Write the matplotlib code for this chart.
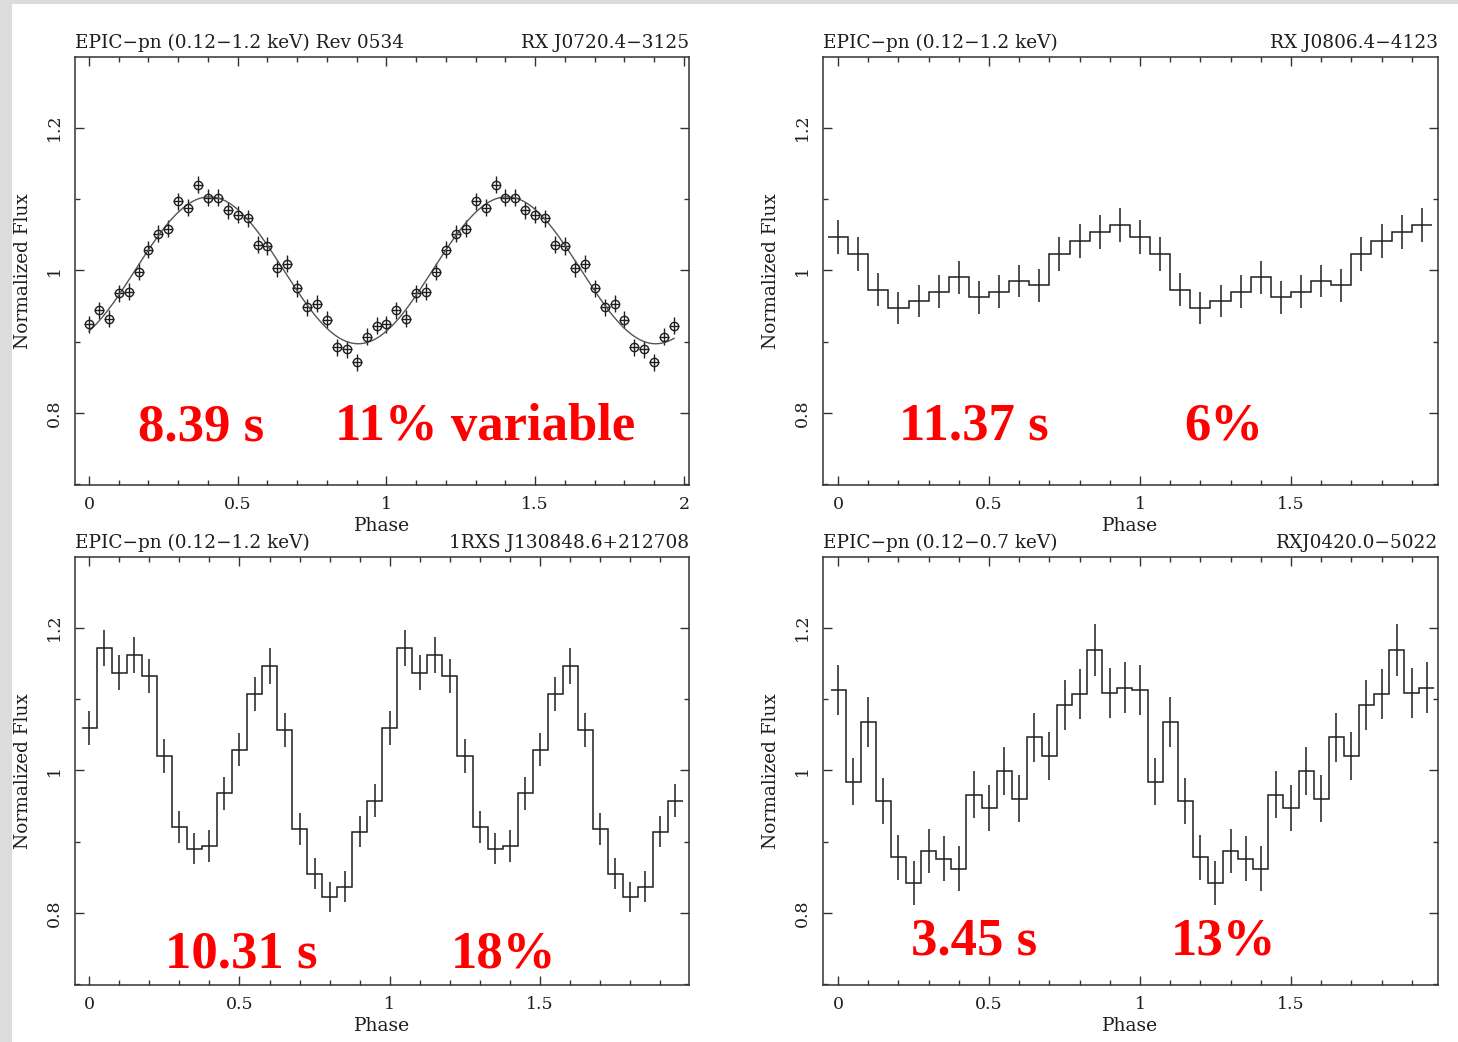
import numpy as np
import matplotlib
matplotlib.use("Agg")
import matplotlib.pyplot as plt
from matplotlib.patches import Rectangle
from matplotlib.ticker import MultipleLocator, FixedLocator, FuncFormatter

# ---------------------------------------------------------------
# Folded EPIC-pn light curves (one cycle each, shown twice)
# ---------------------------------------------------------------

# RX J0720.4-3125, 30 bins per cycle
j0720_flux = [0.924, 0.944, 0.932, 0.968, 0.970, 0.998, 1.029, 1.051, 1.058, 1.097,
              1.088, 1.120, 1.102, 1.102, 1.084, 1.078, 1.073, 1.036, 1.034, 1.003,
              1.009, 0.975, 0.948, 0.953, 0.931, 0.892, 0.889, 0.871, 0.907, 0.922]
j0720_err = [0.012] * 30
# sinusoidal fit: mean, semi-amplitude, phase of maximum
j0720_fit_mean = 1.0
j0720_fit_amp = 0.103
j0720_fit_peak = 0.405

# RX J0806.4-4123, 15 bins per cycle
j0806_flux = [1.046, 1.023, 0.973, 0.947, 0.957, 0.970, 0.990, 0.962, 0.970, 0.985,
              0.979, 1.023, 1.041, 1.054, 1.064]
j0806_err = [0.0238, 0.0233, 0.0231, 0.0221, 0.0226, 0.0228, 0.0226, 0.0228, 0.0228,
             0.0228, 0.0231, 0.0233, 0.0238, 0.0242, 0.0240]

# 1RXS J130848.6+212708, 20 bins per cycle
j1308_flux = [1.059, 1.171, 1.137, 1.161, 1.132, 1.020, 0.921, 0.890, 0.894, 0.968,
              1.029, 1.107, 1.146, 1.057, 0.918, 0.855, 0.823, 0.837, 0.914, 0.957]
j1308_err = [0.0240, 0.0252, 0.0247, 0.0252, 0.0243, 0.0236, 0.0224, 0.0219, 0.0222,
             0.0231, 0.0233, 0.0243, 0.0250, 0.0240, 0.0224, 0.0219, 0.0210, 0.0217,
             0.0219, 0.0231]

# RX J0420.0-5022, 20 bins per cycle
j0420_flux = [1.112, 0.984, 1.068, 0.957, 0.878, 0.842, 0.887, 0.876, 0.862, 0.966,
              0.947, 0.999, 0.960, 1.046, 1.020, 1.092, 1.107, 1.169, 1.108, 1.116]
j0420_err = [0.0350, 0.0329, 0.0348, 0.0324, 0.0317, 0.0310, 0.0310, 0.0317, 0.0313,
             0.0334, 0.0327, 0.0331, 0.0329, 0.0343, 0.0338, 0.0352, 0.0352, 0.0362,
             0.0350, 0.0357]

titles_left = ["EPIC\u2212pn (0.12\u22121.2 keV) Rev 0534",
               "EPIC\u2212pn (0.12\u22121.2 keV)",
               "EPIC\u2212pn (0.12\u22121.2 keV)",
               "EPIC\u2212pn (0.12\u22120.7 keV)"]
titles_right = ["RX J0720.4\u22123125",
                "RX J0806.4\u22124123",
                "1RXS J130848.6+212708",
                "RXJ0420.0\u22125022"]
periods = ["8.39 s", "11.37 s", "10.31 s", "3.45 s"]
pulsed = ["11% variable", "6%", "18%", "13%"]

# ---------------------------------------------------------------
W, H = 1458, 1042
fig = plt.figure(figsize=(W / 100, H / 100), dpi=100)
fig.patch.set_facecolor("white")
fig.patches.append(Rectangle((0, 0), 12 / W, 1, transform=fig.transFigure,
                             facecolor="#dcdcdc", edgecolor="none", zorder=-10))
fig.patches.append(Rectangle((0, 1 - 4 / H), 1, 4 / H, transform=fig.transFigure,
                             facecolor="#dcdcdc", edgecolor="none", zorder=-10))

SERIF = "DejaVu Serif"
INK = "#1e1e1e"


def px_axes(x0, y0, x1, y1):
    return fig.add_axes([x0 / W, 1 - y1 / H, (x1 - x0) / W, (y1 - y0) / H])


def style(ax, xlim, xmajor):
    ax.set_xlim(*xlim)
    ax.set_ylim(0.699, 1.299)
    ax.xaxis.set_major_locator(FixedLocator(xmajor))
    ax.xaxis.set_minor_locator(MultipleLocator(0.1))
    ax.yaxis.set_major_locator(FixedLocator([0.8, 1.0, 1.2]))
    ax.yaxis.set_minor_locator(MultipleLocator(0.1))
    fmt = FuncFormatter(lambda v, p: f"{v:g}")
    ax.xaxis.set_major_formatter(fmt)
    ax.yaxis.set_major_formatter(fmt)
    ax.tick_params(which="both", direction="in", top=True, right=True,
                   color="#333333", width=1.0)
    ax.tick_params(which="major", length=6.5)
    ax.tick_params(which="minor", length=3.6)
    ax.tick_params(axis="x", which="major", pad=8, labelsize=12.5,
                   labelcolor=INK)
    ax.tick_params(axis="y", which="major", pad=9, labelsize=12.5,
                   labelcolor=INK)
    for lbl in ax.get_xticklabels() + ax.get_yticklabels():
        lbl.set_family(SERIF)
    for lbl in ax.get_yticklabels():
        lbl.set_rotation(90)
        lbl.set_va("center")
    for sp in ax.spines.values():
        sp.set_color("#333333")
        sp.set_linewidth(1.1)
    ax.set_xlabel("Phase", family=SERIF, fontsize=13.5, color=INK, labelpad=3)
    ax.set_ylabel("Normalized Flux", family=SERIF, fontsize=13.3, color=INK,
                  labelpad=10)


def headers(ax, i, off):
    ax.text(0, 1 + off, titles_left[i], transform=ax.transAxes, ha="left",
            va="baseline", family=SERIF, fontsize=13.3, color=INK)
    ax.text(1, 1 + off, titles_right[i], transform=ax.transAxes, ha="right",
            va="baseline", family=SERIF, fontsize=13.3, color=INK)


def red_labels(ax, i, xp, xf, yb):
    kw = dict(transform=ax.transAxes, ha="center", va="baseline",
              family="Liberation Serif", fontweight="bold", fontsize=38,
              color="#ff0000")
    ax.text(xp, yb, periods[i], **kw)
    ax.text(xf, yb, pulsed[i], **kw)


def binned(ax, flux, err):
    n = len(flux)
    f2 = np.tile(flux, 2)
    e2 = np.tile(err, 2)
    centers = np.arange(2 * n) / n
    edges = np.append(centers - 0.5 / n, centers[-1] + 0.5 / n)
    ax.stairs(f2, edges, baseline=None, color=INK, lw=1.1)
    ax.errorbar(centers, f2, yerr=e2, fmt="none", ecolor=INK, elinewidth=1.1,
                capsize=0)


# --- RX J0720.4-3125 ---
ax1 = px_axes(75, 57, 689, 485)
style(ax1, (-0.047, 2.017), [0, 0.5, 1, 1.5, 2])
n1 = len(j0720_flux)
ph1 = np.arange(2 * n1) / n1
ax1.errorbar(ph1, np.tile(j0720_flux, 2), yerr=np.tile(j0720_err, 2),
             xerr=0.5 / n1, fmt="o", mfc="none", mec=INK, ms=6, mew=1.0,
             ecolor=INK, elinewidth=1.0, capsize=0)
phase_grid = np.linspace(ph1[0], ph1[-1], 400)
ax1.plot(phase_grid,
         j0720_fit_mean + j0720_fit_amp * np.cos(2 * np.pi * (phase_grid - j0720_fit_peak)),
         color="#555555", lw=1.0)
headers(ax1, 0, 0.021)
red_labels(ax1, 0, 0.205, 0.668, 0.105)

# --- RX J0806.4-4123 ---
ax2 = px_axes(823, 57, 1438, 485)
style(ax2, (-0.05, 1.987), [0, 0.5, 1, 1.5])
binned(ax2, j0806_flux, j0806_err)
headers(ax2, 1, 0.021)
red_labels(ax2, 1, 0.2455, 0.651, 0.106)

# --- 1RXS J130848.6+212708 ---
ax3 = px_axes(75, 557, 689, 985)
style(ax3, (-0.047, 1.995), [0, 0.5, 1, 1.5])
binned(ax3, j1308_flux, j1308_err)
headers(ax3, 2, 0.021)
red_labels(ax3, 2, 0.270, 0.698, 0.041)

# --- RX J0420.0-5022 ---
ax4 = px_axes(823, 557, 1438, 985)
style(ax4, (-0.05, 1.987), [0, 0.5, 1, 1.5])
binned(ax4, j0420_flux, j0420_err)
headers(ax4, 3, 0.021)
red_labels(ax4, 3, 0.245, 0.651, 0.072)

fig.savefig("out.png", dpi=100, facecolor="white")
